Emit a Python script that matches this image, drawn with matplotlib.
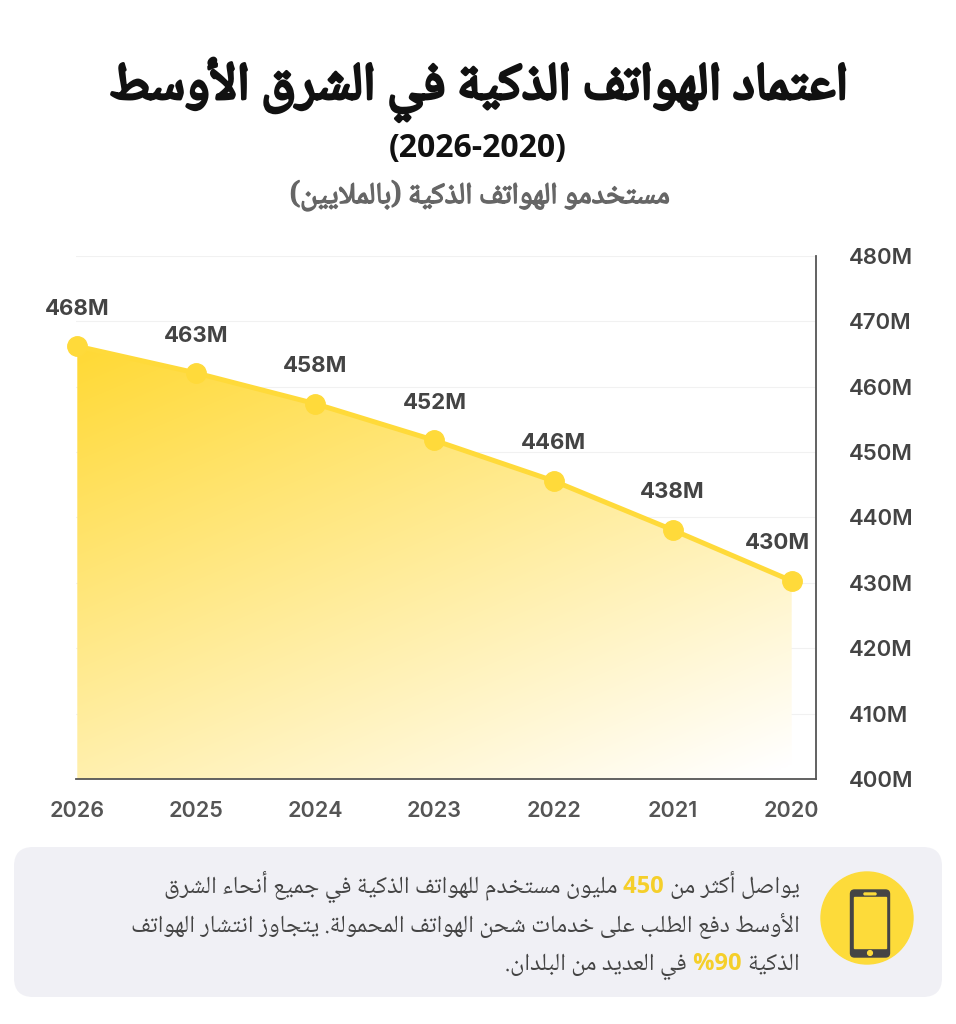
import numpy as np
import matplotlib
matplotlib.use("Agg")
import matplotlib.pyplot as plt
import matplotlib.patheffects as pe
from matplotlib.patches import FancyBboxPatch, Circle

# data
years = [2026, 2025, 2024, 2023, 2022, 2021, 2020]
users = [466.2, 462.1, 457.4, 451.8, 445.6, 438.1, 430.3]
point_labels = ["468M", "463M", "458M", "452M", "446M", "438M", "430M"]
y_ticks = [400, 410, 420, 430, 440, 450, 460, 470, 480]
y_tick_labels = ["400M", "410M", "420M", "430M", "440M", "450M", "460M", "470M", "480M"]

title = "اعتماد الهواتف الذكية في الشرق الأوسط"
title_years = "(2026-2020)"
subtitle = "مستخدمو الهواتف الذكية (بالملايين)"
note_lines = [
    ["يواصل أكثر من", "450", "مليون مستخدم للهواتف الذكية في جميع أنحاء الشرق"],
    ["الأوسط دفع الطلب على خدمات شحن الهواتف المحمولة. يتجاوز انتشار الهواتف"],
    ["الذكية", "%90", "في العديد من البلدان."],
]

YELLOW = "#FFDA3A"
DARK = "#444444"
ARABIC = ["Noto Naskh Arabic", "DejaVu Sans"]
LATIN = ["Inter", "DejaVu Sans"]

# --- tiny arabic shaper: presentation forms + right-to-left order ---
_forms = {
    "ء": (0xFE80, 0xFE80, None, None), "آ": (0xFE81, 0xFE82, None, None),
    "أ": (0xFE83, 0xFE84, None, None), "ؤ": (0xFE85, 0xFE86, None, None),
    "إ": (0xFE87, 0xFE88, None, None), "ئ": (0xFE89, 0xFE8A, 0xFE8B, 0xFE8C),
    "ا": (0xFE8D, 0xFE8E, None, None), "ة": (0xFE93, 0xFE94, None, None),
    "د": (0xFEA9, 0xFEAA, None, None), "ذ": (0xFEAB, 0xFEAC, None, None),
    "ر": (0xFEAD, 0xFEAE, None, None), "ز": (0xFEAF, 0xFEB0, None, None),
    "و": (0xFEED, 0xFEEE, None, None), "ى": (0xFEEF, 0xFEF0, None, None),
}
for ch, base in [("ب", 0xFE8F), ("ت", 0xFE95), ("ث", 0xFE99), ("ج", 0xFE9D),
                 ("ح", 0xFEA1), ("خ", 0xFEA5), ("س", 0xFEB1), ("ش", 0xFEB5),
                 ("ص", 0xFEB9), ("ض", 0xFEBD), ("ط", 0xFEC1), ("ظ", 0xFEC5),
                 ("ع", 0xFEC9), ("غ", 0xFECD), ("ف", 0xFED1), ("ق", 0xFED5),
                 ("ك", 0xFED9), ("ل", 0xFEDD), ("م", 0xFEE1), ("ن", 0xFEE5),
                 ("ه", 0xFEE9), ("ي", 0xFEF1)]:
    _forms[ch] = (base, base + 1, base + 2, base + 3)
_lam_alef = {"آ": (0xFEF5, 0xFEF6), "أ": (0xFEF7, 0xFEF8),
             "إ": (0xFEF9, 0xFEFA), "ا": (0xFEFB, 0xFEFC)}
_mirror = {"(": ")", ")": "("}


def shape(word):
    out = []
    joins = False
    i = 0
    while i < len(word):
        c = word[i]
        if c not in _forms:
            out.append(c)
            joins = False
            i += 1
            continue
        if c == "ل" and i + 1 < len(word) and word[i + 1] in _lam_alef:
            iso, fin = _lam_alef[word[i + 1]]
            out.append(chr(fin if joins else iso))
            joins = False
            i += 2
            continue
        iso, fin, ini, med = _forms[c]
        nxt = ini is not None and i + 1 < len(word) and word[i + 1] in _forms
        if joins and nxt:
            g = med
        elif joins:
            g = fin
        elif nxt:
            g = ini
        else:
            g = iso
        out.append(chr(g))
        joins = ini is not None
        i += 1
    return "".join(out)


def visual(text):
    words = []
    for w in text.split(" "):
        if any(c in _forms for c in w):
            w = "".join(_mirror.get(c, c) for c in reversed(shape(w)))
        words.append(w)
    return " ".join(reversed(words))


W, H = 956, 1024
fig = plt.figure(figsize=(W / 100, H / 100), dpi=100)
fig.patch.set_facecolor("white")


def fx(x):
    return x / W


def fy(y):
    return 1 - y / H


# --- headings ---
fig.text(fx(479), fy(90), visual(title), ha="center", va="center", fontsize=38,
         family=ARABIC, color="#111111",
         path_effects=[pe.withStroke(linewidth=2.2, foreground="#111111")])
fig.text(fx(478), fy(148), title_years, ha="center", va="center", fontsize=23,
         family=["Open Sans", "DejaVu Sans"], fontweight="bold", color="#111111")
fig.text(fx(480), fy(196), visual(subtitle), ha="center", va="center", fontsize=21.5,
         family=ARABIC, color="#666666",
         path_effects=[pe.withStroke(linewidth=1.0, foreground="#666666")])

# --- chart ---
ax = fig.add_axes([fx(75.5), fy(779), fx(815.5) - fx(75.5), fy(256) - fy(779)])
ax.set_xlim(2026.015, 2019.8)
ax.set_ylim(400, 480)

for v in y_ticks[1:]:
    ax.axhline(v, color="#f1f1f1", lw=0.8, zorder=0)

area = ax.fill_between(years, users, 400, facecolor="none", edgecolor="none")
gx = np.linspace(0, 1, 300)
gy = np.linspace(0, 1, 300)
GX, GY = np.meshgrid(gx, gy)
t = np.clip(1 - 0.42 * GX - 0.6 * GY, 0, 1)[..., None]
yellow = np.array([255, 217, 52]) / 255
rgb = (1 - t) * np.ones(3) + t * yellow
im = ax.imshow(rgb, extent=(2026, 2020, 400, max(users)), origin="upper",
               aspect="auto", zorder=1, interpolation="bilinear")
im.set_clip_path(area.get_paths()[0], ax.transData)

ax.plot(years, users, color=YELLOW, lw=3.6, marker="o", ms=14,
        solid_capstyle="round", zorder=3, clip_on=False)

for i, (x, v, lab) in enumerate(zip(years, users, point_labels)):
    dx = -10 if i == len(years) - 1 else 0
    ax.annotate(lab, (x, v), xytext=(dx, 27), textcoords="offset points",
                ha="center", va="center", fontsize=16, fontweight="bold",
                family=LATIN, color=DARK, zorder=4, annotation_clip=False)

for s in ["top", "left"]:
    ax.spines[s].set_visible(False)
for s in ["right", "bottom"]:
    ax.spines[s].set_color("#555555")
    ax.spines[s].set_linewidth(1.3)
ax.yaxis.tick_right()
ax.set_yticks(y_ticks)
ax.set_yticklabels(y_tick_labels)
ax.set_xticks(years)
ax.set_xticklabels([str(y) for y in years])
ax.tick_params(axis="y", length=0, pad=24, labelsize=16, labelcolor=DARK)
ax.tick_params(axis="x", length=0, pad=16, labelsize=15.5, labelcolor="#555555")
for lab in ax.get_xticklabels() + ax.get_yticklabels():
    lab.set_family(LATIN)
    lab.set_fontweight("semibold")
ax.set_facecolor("none")

# --- note box ---
box = FancyBboxPatch((fx(14), fy(997)), fx(942) - fx(14), fy(847) - fy(997),
                     boxstyle="round,pad=0,rounding_size=0.02",
                     transform=fig.transFigure, facecolor="#F0F0F5",
                     edgecolor="none", mutation_aspect=W / H, zorder=-5)
fig.patches.append(box)

icon = fig.add_axes([fx(819), fy(966), fx(915) - fx(819), fy(870) - fy(966)])
icon.set_zorder(5)
icon.set_xlim(0, 96)
icon.set_ylim(96, 0)
icon.set_aspect("equal")
icon.axis("off")
icon.add_patch(Circle((48, 48), 46, color="#FDDB3A"))
icon.add_patch(FancyBboxPatch((31.5, 20), 39, 67, boxstyle="round,pad=0,rounding_size=4",
                              color="#454545"))
icon.add_patch(FancyBboxPatch((35, 27), 32, 51, boxstyle="square,pad=0", color="#FDDB3A"))
icon.add_patch(FancyBboxPatch((45, 23), 12, 1.8, boxstyle="round,pad=0,rounding_size=0.8",
                              color="#FDDB3A"))
icon.add_patch(Circle((51, 83), 2.4, color="#FDDB3A"))

fig.canvas.draw()
renderer = fig.canvas.get_renderer()
baselines = [893, 932, 970]
x_right = 800
for parts, yb in zip(note_lines, baselines):
    x = x_right
    pieces = []
    for j, part in enumerate(parts):
        if j % 2 == 1:
            pieces.append((" " + part + " ", True))
        else:
            pieces.append((visual(part), False))
    # rightmost piece first
    for text, hl in pieces:
        if hl:
            txt = fig.text(fx(x), fy(yb), text, ha="right", va="baseline",
                           fontsize=17, fontweight="bold", color="#F5CF2A",
                           family=["Open Sans", "DejaVu Sans"])
        else:
            txt = fig.text(fx(x), fy(yb), text, ha="right", va="baseline",
                           fontsize=17.5, color=DARK, family=ARABIC)
        bb = txt.get_window_extent(renderer)
        x -= bb.width

fig.savefig("out.png", dpi=100, facecolor="white")
